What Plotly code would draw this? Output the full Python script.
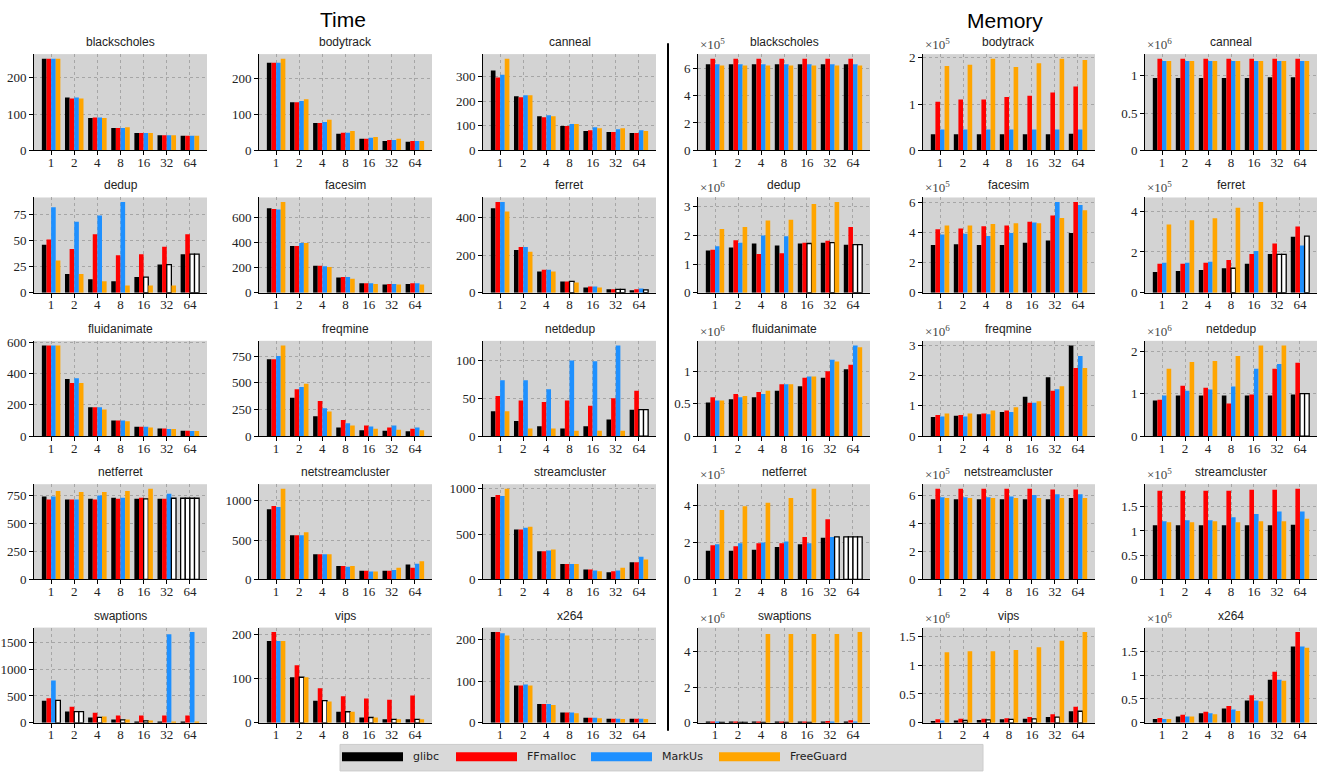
import plotly.graph_objects as go

W, H = 1323, 776

threads = ["1", "2", "4", "8", "16", "32", "64"]
allocators = ["glibc", "FFmalloc", "MarkUs", "FreeGuard"]
bar_colors = ["#000000", "#ff0000", "#1e90ff", "#ffa500"]
benchmarks = ["blackscholes", "bodytrack", "canneal", "dedup", "facesim", "ferret",
              "fluidanimate", "freqmine", "netdedup", "netferret", "netstreamcluster",
              "streamcluster", "swaptions", "vips", "x264"]

# ---- runtime (seconds) per benchmark, one list per thread count ----
time_glibc = {
    "blackscholes": [253, 146, 89, 62, 48, 42, 40],
    "bodytrack": [244, 134, 76, 46, 32, 26, 24],
    "canneal": [325, 220, 139, 99, 79, 75, 71],
    "dedup": [46, 18, 13, 11, 15, 27, 37],
    "facesim": [670, 370, 215, 120, 75, 65, 70],
    "ferret": [450, 228, 113, 60, 28, 18, 13],
    "fluidanimate": [580, 365, 185, 100, 60, 48, 35],
    "freqmine": [720, 360, 185, 80, 55, 50, 45],
    "netdedup": [33, 20, 13, 10, 13, 22, 35],
    "netferret": [740, 715, 720, 730, 720, 720, 725],
    "netstreamcluster": [890, 560, 320, 170, 110, 110, 190],
    "streamcluster": [910, 550, 310, 170, 110, 80, 190],
    "swaptions": [410, 210, 100, 60, 25, 20, 20],
    "vips": [185, 103, 50, 25, 12, 8, 8],
    "x264": [218, 90, 45, 25, 12, 10, 10],
}
time_ffmalloc = {
    "blackscholes": [253, 143, 91, 62, 48, 42, 40],
    "bodytrack": [244, 134, 76, 49, 32, 29, 26],
    "canneal": [296, 216, 135, 99, 82, 75, 71],
    "dedup": [51, 42, 56, 36, 37, 44, 56],
    "facesim": [665, 370, 215, 125, 75, 70, 75],
    "ferret": [483, 243, 123, 60, 33, 18, 18],
    "fluidanimate": [580, 340, 185, 100, 60, 48, 35],
    "freqmine": [720, 440, 330, 150, 100, 80, 70],
    "netdedup": [53, 47, 45, 47, 40, 50, 60],
    "netferret": [715, 715, 715, 720, 730, 720, 725],
    "netstreamcluster": [930, 560, 320, 170, 110, 110, 150],
    "streamcluster": [930, 550, 310, 170, 110, 90, 190],
    "swaptions": [460, 300, 190, 135, 135, 135, 135],
    "vips": [205, 130, 78, 60, 55, 52, 62],
    "x264": [218, 90, 45, 25, 12, 10, 10],
}
time_markus = {
    "blackscholes": [253, 146, 91, 62, 48, 42, 40],
    "bodytrack": [244, 137, 79, 49, 35, 29, 26],
    "canneal": [308, 224, 143, 107, 94, 86, 82],
    "dedup": [82, 68, 74, 87, 15, 27, 37],
    "facesim": [660, 395, 210, 125, 75, 70, 75],
    "ferret": [483, 243, 123, 60, 33, 18, 23],
    "fluidanimate": [580, 370, 185, 100, 60, 45, 32],
    "freqmine": [750, 460, 260, 120, 90, 100, 80],
    "netdedup": [74, 74, 62, 100, 99, 120, 35],
    "netferret": [740, 715, 750, 730, 720, 765, 725],
    "netstreamcluster": [920, 560, 320, 160, 100, 120, 200],
    "streamcluster": [920, 570, 320, 170, 100, 100, 250],
    "swaptions": [790, 210, 100, 55, 35, 1650, 1690],
    "vips": [185, 103, 50, 25, 12, 8, 8],
    "x264": [215, 92, 45, 25, 12, 10, 10],
}
time_freeguard = {
    "blackscholes": [253, 143, 89, 64, 48, 42, 40],
    "bodytrack": [255, 142, 85, 54, 37, 32, 26],
    "canneal": [373, 224, 139, 107, 90, 90, 79],
    "dedup": [31, 18, 11, 7, 7, 7, 37],
    "facesim": [720, 395, 205, 110, 70, 65, 65],
    "ferret": [432, 218, 113, 55, 28, 18, 15],
    "fluidanimate": [580, 340, 170, 95, 55, 45, 32],
    "freqmine": [850, 490, 230, 100, 70, 60, 55],
    "netdedup": [33, 10, 10, 7, 7, 7, 35],
    "netferret": [790, 780, 780, 790, 810, 725, 725],
    "netstreamcluster": [1150, 600, 320, 170, 100, 150, 230],
    "streamcluster": [1000, 580, 330, 170, 90, 130, 220],
    "swaptions": [420, 210, 120, 60, 45, 20, 20],
    "vips": [185, 103, 48, 25, 12, 8, 8],
    "x264": [210, 90, 43, 23, 11, 9, 9],
}
# runs that did not complete (index into threads), drawn as empty bars
time_failed = {
    "dedup": {"MarkUs": [4, 5, 6], "FreeGuard": [6]},
    "ferret": {"MarkUs": [3, 5], "FreeGuard": [5, 6]},
    "netdedup": {"MarkUs": [6], "FreeGuard": [6]},
    "netferret": {"glibc": [6], "FFmalloc": [6], "MarkUs": [4, 6], "FreeGuard": [5, 6]},
    "swaptions": {"MarkUs": [1, 2, 3, 4], "FreeGuard": [0, 1]},
    "vips": {"MarkUs": [1, 2, 3, 4, 5, 6]},
}

# ---- peak memory, in units of 10^exp ----
mem_exp = {
    "blackscholes": 5, "bodytrack": 5, "canneal": 6, "dedup": 6, "facesim": 5,
    "ferret": 5, "fluidanimate": 6, "freqmine": 6, "netdedup": 6, "netferret": 5,
    "netstreamcluster": 5, "streamcluster": 5, "swaptions": 6, "vips": 6, "x264": 6,
}
mem_glibc = {
    "blackscholes": [6.3, 6.3, 6.3, 6.3, 6.3, 6.3, 6.3],
    "bodytrack": [0.35, 0.35, 0.35, 0.35, 0.35, 0.35, 0.36],
    "canneal": [0.97, 0.97, 0.97, 0.97, 0.97, 0.98, 0.98],
    "dedup": [1.48, 1.58, 1.72, 1.65, 1.72, 1.75, 1.68],
    "facesim": [3.15, 3.2, 3.15, 3.15, 3.3, 3.45, 3.95],
    "ferret": [1.02, 1.07, 1.12, 1.2, 1.42, 1.9, 2.75],
    "fluidanimate": [0.52, 0.57, 0.6, 0.7, 0.77, 0.9, 1.03],
    "freqmine": [0.63, 0.67, 0.72, 0.8, 1.3, 1.95, 3.0],
    "netdedup": [0.84, 0.96, 0.96, 0.96, 0.96, 0.96, 0.98],
    "netferret": [1.55, 1.55, 1.6, 1.75, 1.9, 2.25, 2.3],
    "netstreamcluster": [5.7, 5.7, 5.7, 5.7, 5.7, 5.7, 5.8],
    "streamcluster": [1.12, 1.12, 1.12, 1.12, 1.12, 1.12, 1.13],
    "swaptions": [0.02, 0.02, 0.02, 0.02, 0.02, 0.03, 0.05],
    "vips": [0.03, 0.04, 0.05, 0.06, 0.07, 0.1, 0.2],
    "x264": [0.08, 0.13, 0.2, 0.3, 0.47, 0.9, 1.6],
}
mem_ffmalloc = {
    "blackscholes": [6.7, 6.7, 6.7, 6.7, 6.7, 6.7, 6.7],
    "bodytrack": [1.05, 1.1, 1.1, 1.15, 1.18, 1.25, 1.38],
    "canneal": [1.23, 1.23, 1.23, 1.23, 1.23, 1.23, 1.23],
    "dedup": [1.5, 1.83, 1.35, 1.38, 1.75, 1.82, 2.3],
    "facesim": [4.2, 4.25, 4.4, 4.45, 4.7, 5.1, 6.0],
    "ferret": [1.42, 1.42, 1.47, 1.6, 1.9, 2.42, 3.25],
    "fluidanimate": [0.6, 0.65, 0.68, 0.8, 0.9, 1.0, 1.1],
    "freqmine": [0.7, 0.7, 0.75, 0.85, 1.1, 1.5, 2.25],
    "netdedup": [0.86, 1.19, 1.14, 0.77, 0.98, 1.59, 1.73],
    "netferret": [1.85, 1.8, 1.95, 1.95, 2.3, 3.25, 2.3],
    "netstreamcluster": [6.45, 6.45, 6.45, 6.45, 6.45, 6.4, 6.4],
    "streamcluster": [1.83, 1.83, 1.83, 1.83, 1.85, 1.85, 1.87],
    "swaptions": [0.05, 0.05, 0.05, 0.05, 0.05, 0.1, 0.15],
    "vips": [0.06, 0.07, 0.07, 0.08, 0.1, 0.15, 0.28],
    "x264": [0.1, 0.17, 0.23, 0.35, 0.58, 1.07, 1.9],
}
mem_markus = {
    "blackscholes": [6.3, 6.3, 6.3, 6.3, 6.3, 6.3, 6.3],
    "bodytrack": [0.45, 0.45, 0.45, 0.45, 0.45, 0.45, 0.45],
    "canneal": [1.2, 1.2, 1.2, 1.2, 1.2, 1.2, 1.2],
    "dedup": [1.62, 1.75, 2.0, 1.97, 1.72, 1.75, 1.68],
    "facesim": [3.85, 3.9, 3.75, 3.95, 4.65, 6.0, 5.8],
    "ferret": [1.47, 1.47, 1.52, 1.2, 2.05, 1.88, 2.32],
    "fluidanimate": [0.55, 0.6, 0.65, 0.8, 0.92, 1.18, 1.4],
    "freqmine": [0.65, 0.65, 0.72, 0.8, 1.1, 1.55, 2.65],
    "netdedup": [0.96, 1.07, 1.1, 1.17, 1.59, 1.7, 1.0],
    "netferret": [1.9, 1.95, 2.0, 2.05, 1.95, 2.3, 2.3],
    "netstreamcluster": [5.85, 5.85, 5.85, 5.9, 6.0, 6.05, 6.05],
    "streamcluster": [1.2, 1.22, 1.22, 1.28, 1.35, 1.4, 1.4],
    "swaptions": [0.03, 0.02, 0.02, 0.02, 0.02, 0.04, 0.06],
    "vips": [0.04, 0.04, 0.05, 0.06, 0.07, 0.1, 0.2],
    "x264": [0.08, 0.13, 0.2, 0.28, 0.47, 0.9, 1.6],
}
mem_freeguard = {
    "blackscholes": [6.2, 6.2, 6.2, 6.2, 6.2, 6.2, 6.2],
    "bodytrack": [1.82, 1.85, 1.98, 1.8, 1.88, 1.98, 1.95],
    "canneal": [1.2, 1.2, 1.2, 1.2, 1.2, 1.2, 1.2],
    "dedup": [2.23, 2.3, 2.52, 2.55, 3.1, 3.17, 1.68],
    "facesim": [4.45, 4.45, 4.55, 4.6, 4.6, 4.95, 5.45],
    "ferret": [3.35, 3.55, 3.65, 4.17, 4.45, 1.88, 2.78],
    "fluidanimate": [0.55, 0.62, 0.7, 0.8, 0.92, 1.15, 1.37],
    "freqmine": [0.75, 0.75, 0.85, 0.95, 1.15, 1.65, 2.25],
    "netdedup": [1.59, 1.75, 1.77, 1.89, 2.14, 2.14, 1.0],
    "netferret": [3.75, 3.95, 4.15, 4.4, 4.9, 2.3, 2.3],
    "netstreamcluster": [5.8, 5.8, 5.8, 5.8, 5.8, 5.8, 5.8],
    "streamcluster": [1.18, 1.18, 1.2, 1.18, 1.2, 1.2, 1.25],
    "swaptions": [0.02, 0.02, 5.0, 5.0, 5.0, 5.0, 5.1],
    "vips": [1.22, 1.24, 1.24, 1.26, 1.31, 1.42, 1.57],
    "x264": [0.08, 0.13, 0.18, 0.25, 0.45, 0.88, 1.57],
}
mem_failed = {
    "dedup": {"MarkUs": [4, 5, 6], "FreeGuard": [6]},
    "ferret": {"MarkUs": [3, 5], "FreeGuard": [5, 6]},
    "netdedup": {"MarkUs": [6], "FreeGuard": [6]},
    "netferret": {"glibc": [6], "FFmalloc": [6], "MarkUs": [6], "FreeGuard": [5, 6]},
    "swaptions": {"MarkUs": [1, 2, 3, 4], "FreeGuard": [0, 1]},
    "vips": {"MarkUs": [1, 2, 3, 4, 5, 6]},
}

time_dtick = [100, 100, 100, 25, 200, 200, 200, 250, 50, 250, 500, 500, 500, 100, 100]
mem_dtick = [2, 1, 0.5, 1, 2, 2, 0.5, 1, 1, 2, 2, 0.5, 2, 0.5, 0.5]

# ---- layout geometry (pixels) ----
col_px = [(34, 207), (259, 432), (483, 656), (698, 870), (923, 1095), (1145, 1317)]
row_px = [(49, 147), (195, 292), (341, 438), (487, 584), (633, 730)]

TICK_FONT = dict(family="Liberation Serif", size=13, color="#222222")
TITLE_FONT = dict(family="Liberation Sans", size=12, color="#222222")

fig = go.Figure()
annotations = []
shapes = []

panels = []
for i, b in enumerate(benchmarks):
    panels.append(("time", b, i // 3, i % 3, time_dtick[i]))
for i, b in enumerate(benchmarks):
    panels.append(("mem", b, i // 3, 3 + i % 3, mem_dtick[i]))

layout_axes = {}
for p, (kind, bench, r, c, dtick) in enumerate(panels):
    n = p + 1
    xname = "x" if n == 1 else f"x{n}"
    yname = "y" if n == 1 else f"y{n}"
    if kind == "time":
        data = [time_glibc[bench], time_ffmalloc[bench], time_markus[bench], time_freeguard[bench]]
        failed = time_failed.get(bench, {})
    else:
        data = [mem_glibc[bench], mem_ffmalloc[bench], mem_markus[bench], mem_freeguard[bench]]
        failed = mem_failed.get(bench, {})

    ymax = max(max(v) for v in data) * 1.05
    for s, (name, col, vals) in enumerate(zip(allocators, bar_colors, data)):
        bad = set(failed.get(name, []))
        fill = ["#ffffff" if k in bad else col for k in range(len(vals))]
        lw = [1.3 if k in bad else 0 for k in range(len(vals))]
        fig.add_trace(go.Bar(
            x=threads, y=vals, name=name, xaxis=xname, yaxis=yname,
            marker=dict(color=fill, line=dict(color="#000000", width=lw)),
            showlegend=False, offsetgroup=str(s),
        ))

    x0, x1 = col_px[c]
    t, btm = row_px[r]
    xd = [x0 / W, x1 / W]
    yd = [1 - btm / H, 1 - t / H]
    layout_axes["xaxis" if n == 1 else f"xaxis{n}"] = dict(
        domain=xd, anchor=yname, type="category", range=[-0.74, 6.74],
        showgrid=True, gridcolor="#a6a6a6", griddash="dot", gridwidth=1,
        showline=True, linecolor="#000000", linewidth=1,
        ticks="outside", ticklen=4, tickcolor="#000000",
        tickfont=TICK_FONT, fixedrange=True, ticklabelstandoff=-4,
    )
    layout_axes["yaxis" if n == 1 else f"yaxis{n}"] = dict(
        domain=yd, anchor=xname, range=[0, ymax], dtick=dtick, tick0=0,
        showgrid=True, gridcolor="#a6a6a6", griddash="dot", gridwidth=1,
        showline=True, linecolor="#000000", linewidth=1, zeroline=False,
        ticks="outside", ticklen=4, tickcolor="#000000",
        tickfont=TICK_FONT, fixedrange=True,
    )
    annotations.append(dict(
        text=bench, x=(xd[0] + xd[1]) / 2, y=yd[1], xref="paper", yref="paper",
        xanchor="center", yanchor="bottom", yshift=3, showarrow=False, font=TITLE_FONT,
    ))
    if kind == "mem":
        annotations.append(dict(
            text=f"×10<sup>{mem_exp[bench]}</sup>", x=xd[0], y=yd[1],
            xref="paper", yref="paper", xanchor="left", yanchor="bottom", yshift=0,
            showarrow=False, font=dict(family="Liberation Serif", size=13, color="#444444"),
        ))

# section headings
annotations.append(dict(text="Time", x=343 / W, y=1 - 14 / H, xref="paper", yref="paper",
                        xanchor="center", yanchor="middle", showarrow=False,
                        font=dict(family="Liberation Sans", size=21, color="#000000")))
annotations.append(dict(text="Memory", x=1005 / W, y=1 - 15 / H, xref="paper", yref="paper",
                        xanchor="center", yanchor="middle", showarrow=False,
                        font=dict(family="Liberation Sans", size=21, color="#000000")))

# divider between the two halves
shapes.append(dict(type="line", xref="paper", yref="paper", x0=668 / W, x1=668 / W,
                   y0=1 - 738 / H, y1=1 - 38 / H, line=dict(color="#000000", width=2)))

# legend strip along the bottom
shapes.append(dict(type="rect", xref="paper", yref="paper", x0=340 / W, x1=983 / W,
                   y0=1 - 779 / H, y1=1 - 752 / H, fillcolor="#d9d9d9",
                   line=dict(color="#cccccc", width=1), layer="below"))
legend_x = [342, 456, 591, 719]
for lx, name, col in zip(legend_x, allocators, bar_colors):
    shapes.append(dict(type="rect", xref="paper", yref="paper", x0=lx / W, x1=(lx + 61) / W,
                       y0=1 - 769 / H, y1=1 - 760 / H, fillcolor=col, line=dict(width=0)))
    annotations.append(dict(text=name, x=(lx + 69) / W, y=1 - 764.5 / H, xref="paper", yref="paper",
                            xanchor="left", yanchor="middle", showarrow=False,
                            font=dict(family="DejaVu Sans", size=11, color="#222222")))

fig.update_layout(
    width=W, height=H, margin=dict(l=0, r=0, t=0, b=0),
    paper_bgcolor="#ffffff", plot_bgcolor="#d3d3d3",
    barmode="group", bargap=0.2, bargroupgap=0,
    showlegend=False, annotations=annotations, shapes=shapes,
    **layout_axes,
)

fig.write_html("out.html")
